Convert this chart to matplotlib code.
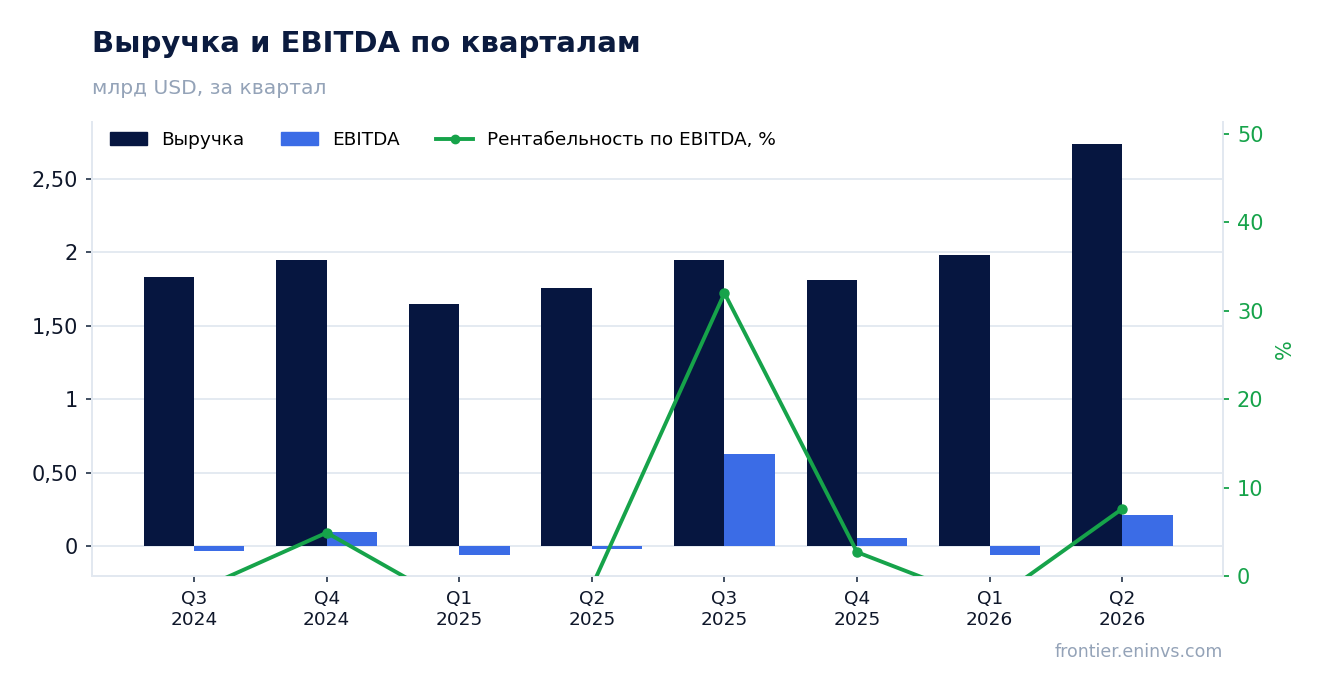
import matplotlib
matplotlib.use("Agg")
import matplotlib.pyplot as plt
import numpy as np
from matplotlib.ticker import FuncFormatter
from matplotlib.lines import Line2D
from matplotlib.patches import Patch

quarters = ["Q3\n2024", "Q4\n2024", "Q1\n2025", "Q2\n2025",
            "Q3\n2025", "Q4\n2025", "Q1\n2026", "Q2\n2026"]
revenue = [1.83, 1.95, 1.65, 1.76, 1.95, 1.81, 1.98, 2.74]
ebitda = [-0.034, 0.095, -0.06, -0.02, 0.625, 0.053, -0.06, 0.21]
margin = [-1.8, 4.9, -3.6, -1.2, 32.0, 2.7, -3.1, 7.6]

NAVY = "#061640"
BLUE = "#3B6CE6"
GREEN = "#16A34A"
GRID = "#E2E8F0"
MUTED = "#94A3B8"
TEXT = "#0F172A"

fig = plt.figure(figsize=(13.23, 6.93), dpi=100)
ax = fig.add_axes([92 / 1323, 1 - 576 / 693, (1223 - 92) / 1323, (576 - 122) / 693])
ax2 = ax.twinx()

x = np.arange(len(quarters))
w = 0.38
ax.bar(x - w / 2, revenue, w, color=NAVY, zorder=3)
ax.bar(x + w / 2, ebitda, w, color=BLUE, zorder=3)

ax.set_xlim(-0.77, len(quarters) - 1 + 0.76)
ax.set_ylim(-0.204, 2.888)
ax.set_yticks([0, 0.5, 1, 1.5, 2, 2.5])


def fmt(v, pos):
    if abs(v - round(v)) < 1e-9:
        return str(int(round(v)))
    return f"{v:.2f}".replace(".", ",")


ax.yaxis.set_major_formatter(FuncFormatter(fmt))
ax.set_xticks(x)
ax.set_xticklabels(quarters)
ax.grid(axis="y", color=GRID, linewidth=1.3, zorder=0)
ax.set_axisbelow(True)
ax.tick_params(axis="y", labelsize=15, labelcolor=TEXT, color="#334155", length=4, width=1.3, pad=6)
ax.tick_params(axis="x", labelsize=13.3, labelcolor=TEXT, color="#334155", length=4, width=1.3, pad=6)

ax2.plot(x, margin, color=GREEN, linewidth=2.8, marker="o", markersize=6.5, zorder=5)
ax2.set_ylim(0, 51.36)
ax2.set_yticks([0, 10, 20, 30, 40, 50])
ax2.tick_params(axis="y", labelsize=15, colors=GREEN, length=4, width=1.3, pad=6)
ax2.set_ylabel("%", color=GREEN, fontsize=15, labelpad=8)

for a in (ax, ax2):
    a.spines["top"].set_visible(False)
    for s in ("left", "right", "bottom"):
        a.spines[s].set_color(GRID)
        a.spines[s].set_linewidth(1.3)

handles = [
    Patch(color=NAVY, label="Выручка"),
    Patch(color=BLUE, label="EBITDA"),
    Line2D([0], [0], color=GREEN, linewidth=2.8, marker="o", markersize=6, label="Рентабельность по EBITDA, %"),
]
ax2.legend(handles=handles, loc="upper left", ncol=3, frameon=False,
           prop={"family": "DejaVu Sans", "size": 13.3}, bbox_to_anchor=(0.003, 1.012),
           handlelength=2.0, handleheight=0.7, handletextpad=0.75, columnspacing=2.0,
           borderaxespad=0.3, borderpad=0.5)

fig.text(92 / 1323, 1 - 44 / 693, "Выручка и EBITDA по кварталам", fontsize=21,
         fontweight="bold", color="#0B1B3F", va="center", ha="left")
fig.text(92 / 1323, 1 - 88 / 693, "млрд USD, за квартал", fontsize=14.6,
         color=MUTED, va="center", ha="left")
fig.text(1223 / 1323, 1 - 652 / 693, "frontier.eninvs.com", fontsize=12.5,
         color=MUTED, va="center", ha="right")

fig.savefig("out.png", dpi=100, facecolor="white")
